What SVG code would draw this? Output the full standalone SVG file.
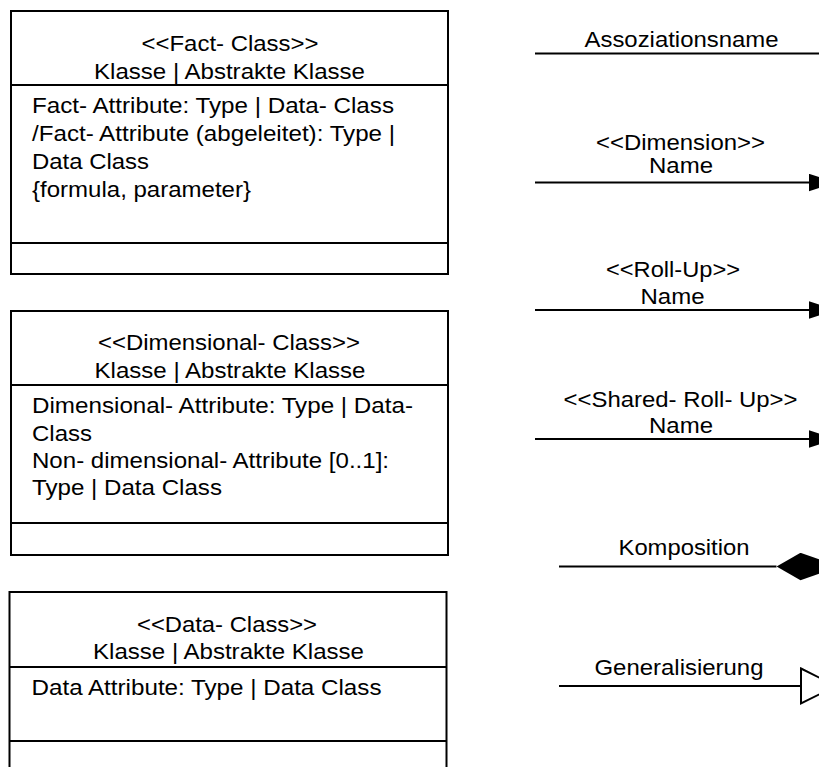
<svg xmlns="http://www.w3.org/2000/svg" width="819" height="767" viewBox="0 0 819 767">
  <style>
    .box { fill: #ffffff; stroke: #000000; stroke-width: 2; }
    .sep { stroke: #000000; stroke-width: 2; }
    .t { font-family: "Liberation Sans", Arial, sans-serif; font-size: 22px; fill: #000000; }
    .c { text-anchor: middle; }
    .conn { stroke: #000000; stroke-width: 2; fill: none; }
  </style>
  <defs>
    <marker id="arrow-filled" markerUnits="userSpaceOnUse" markerWidth="30" markerHeight="20" refX="0" refY="9" orient="auto">
      <path d="M0,0.3 L27,9 L0,17.7 Z" fill="#000000"/>
    </marker>
    <marker id="diamond-filled" markerUnits="userSpaceOnUse" markerWidth="70" markerHeight="30" refX="0" refY="14" orient="auto">
      <path d="M0,14 L24,0.3 L64,14 L24,27.7 Z" fill="#000000"/>
    </marker>
    <marker id="triangle-hollow" markerUnits="userSpaceOnUse" markerWidth="40" markerHeight="40" refX="1" refY="20" orient="auto">
      <path d="M1,2.5 L36,20 L1,37.5 Z" fill="#ffffff" stroke="#000000" stroke-width="2"/>
    </marker>
  </defs>

  <rect width="819" height="767" fill="#ffffff"/>

  <!-- Fact class -->
  <g id="fact-class">
    <rect class="box" x="11" y="11" width="437" height="263"/>
    <line class="sep" x1="11" y1="85" x2="448" y2="85"/>
    <line class="sep" x1="11" y1="243" x2="448" y2="243"/>
    <text class="t c" x="230" y="50.5" textLength="177" lengthAdjust="spacingAndGlyphs">&lt;&lt;Fact- Class&gt;&gt;</text>
    <text class="t c" x="229.5" y="79" textLength="271" lengthAdjust="spacingAndGlyphs">Klasse | Abstrakte Klasse</text>
    <text class="t" x="32" y="113" textLength="362" lengthAdjust="spacingAndGlyphs">Fact- Attribute: Type | Data- Class</text>
    <text class="t" x="32" y="141" textLength="363" lengthAdjust="spacingAndGlyphs">/Fact- Attribute (abgeleitet): Type |</text>
    <text class="t" x="32" y="169" textLength="117" lengthAdjust="spacingAndGlyphs">Data Class</text>
    <text class="t" x="32" y="197" textLength="219" lengthAdjust="spacingAndGlyphs">{formula, parameter}</text>
  </g>

  <!-- Dimensional class -->
  <g id="dimensional-class">
    <rect class="box" x="11" y="311" width="437" height="244"/>
    <line class="sep" x1="11" y1="385" x2="448" y2="385"/>
    <line class="sep" x1="11" y1="523" x2="448" y2="523"/>
    <text class="t c" x="229" y="349.5" textLength="262" lengthAdjust="spacingAndGlyphs">&lt;&lt;Dimensional- Class&gt;&gt;</text>
    <text class="t c" x="230" y="378" textLength="271" lengthAdjust="spacingAndGlyphs">Klasse | Abstrakte Klasse</text>
    <text class="t" x="32" y="413" textLength="381" lengthAdjust="spacingAndGlyphs">Dimensional- Attribute: Type | Data-</text>
    <text class="t" x="32" y="440.5" textLength="60" lengthAdjust="spacingAndGlyphs">Class</text>
    <text class="t" x="32" y="467.5" textLength="357" lengthAdjust="spacingAndGlyphs">Non- dimensional- Attribute [0..1]:</text>
    <text class="t" x="32" y="495" textLength="190" lengthAdjust="spacingAndGlyphs">Type | Data Class</text>
  </g>

  <!-- Data class (continues past the lower edge) -->
  <g id="data-class">
    <rect class="box" x="9.5" y="592" width="437" height="200"/>
    <line class="sep" x1="9.5" y1="667" x2="446.5" y2="667"/>
    <line class="sep" x1="9.5" y1="741" x2="446.5" y2="741"/>
    <text class="t c" x="227" y="631.5" textLength="180" lengthAdjust="spacingAndGlyphs">&lt;&lt;Data- Class&gt;&gt;</text>
    <text class="t c" x="228.5" y="659" textLength="271" lengthAdjust="spacingAndGlyphs">Klasse | Abstrakte Klasse</text>
    <text class="t" x="31.5" y="695" textLength="350" lengthAdjust="spacingAndGlyphs">Data Attribute: Type | Data Class</text>
  </g>

  <!-- Connector legend -->
  <g id="connectors">
    <line class="conn" x1="535" y1="53.5" x2="819" y2="53.5"/>
    <text class="t c" x="681.5" y="46.5" textLength="194" lengthAdjust="spacingAndGlyphs">Assoziationsname</text>

    <line class="conn" x1="535" y1="182.5" x2="809" y2="182.5" marker-end="url(#arrow-filled)"/>
    <text class="t c" x="680.5" y="149.5" textLength="169" lengthAdjust="spacingAndGlyphs">&lt;&lt;Dimension&gt;&gt;</text>
    <text class="t c" x="681" y="173" textLength="64" lengthAdjust="spacingAndGlyphs">Name</text>

    <line class="conn" x1="535" y1="310" x2="809" y2="310" marker-end="url(#arrow-filled)"/>
    <text class="t c" x="673" y="277" textLength="134" lengthAdjust="spacingAndGlyphs">&lt;&lt;Roll-Up&gt;&gt;</text>
    <text class="t c" x="672.5" y="303.5" textLength="64" lengthAdjust="spacingAndGlyphs">Name</text>

    <line class="conn" x1="535" y1="439" x2="809" y2="439" marker-end="url(#arrow-filled)"/>
    <text class="t c" x="680.5" y="406.5" textLength="234" lengthAdjust="spacingAndGlyphs">&lt;&lt;Shared- Roll- Up&gt;&gt;</text>
    <text class="t c" x="681" y="433" textLength="64" lengthAdjust="spacingAndGlyphs">Name</text>

    <line class="conn" x1="559" y1="566.5" x2="776.5" y2="566.5" marker-end="url(#diamond-filled)"/>
    <text class="t c" x="684" y="554.5" textLength="131" lengthAdjust="spacingAndGlyphs">Komposition</text>

    <line class="conn" x1="559" y1="686" x2="801" y2="686" marker-end="url(#triangle-hollow)"/>
    <text class="t c" x="679" y="675" textLength="169" lengthAdjust="spacingAndGlyphs">Generalisierung</text>
  </g>
</svg>
